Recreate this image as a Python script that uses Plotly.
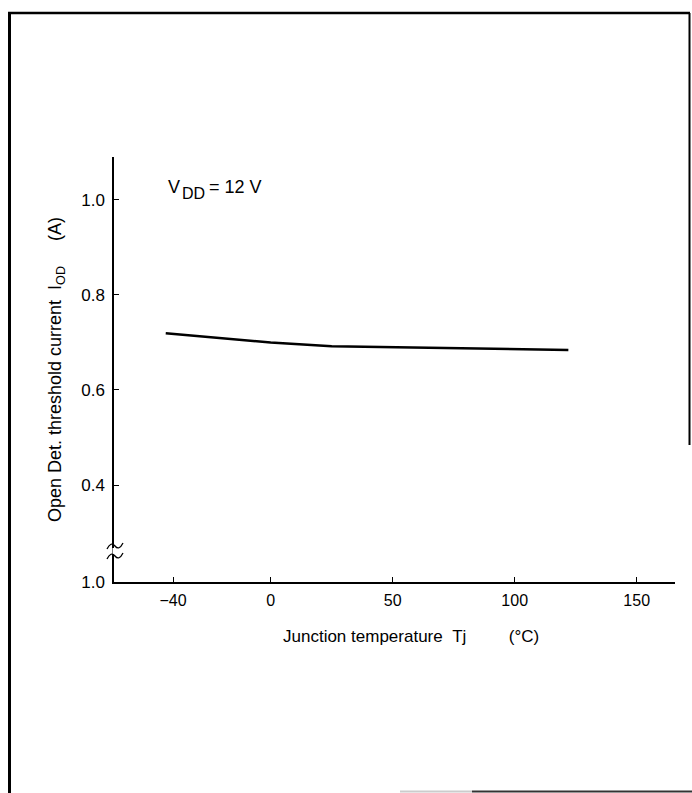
import plotly.graph_objects as go

# Data
tj = [-43, -20, 0, 25, 50, 75, 100, 122]
iod = [0.719, 0.708, 0.700, 0.692, 0.690, 0.688, 0.686, 0.684]

x_ticks = [-40, 0, 50, 100, 150]
x_ticktext = ["\u221240", "0", "50", "100", "150"]
y_bottom = 0.196
y_ticks = [y_bottom, 0.4, 0.6, 0.8, 1.0]
y_ticktext = ["1.0", "0.4", "0.6", "0.8", "1.0"]

W, H = 692, 793
PLOT_X0, PLOT_X1, PLOT_Y0, PLOT_Y1 = 114, 675, 157, 582  # page pixel coords
L, R, T, B = PLOT_X0, W - PLOT_X1, PLOT_Y0, H - PLOT_Y1
PW, PH = W - L - R, H - T - B

def px(xp):
    return (xp - L) / PW

def py(yp):
    return (PLOT_Y1 - yp) / PH

FONT = "Liberation Sans, Arial, Helvetica, sans-serif"

fig = go.Figure()
fig.add_trace(go.Scatter(x=tj, y=iod, mode="lines",
                         line=dict(color="black", width=2.5), showlegend=False,
                         hoverinfo="skip"))

fig.update_xaxes(range=[-64.2, 165.7], showline=True, linecolor="black", linewidth=1.5,
                 ticks="inside", ticklen=5, tickwidth=1.2, tickcolor="black",
                 tickvals=x_ticks, ticktext=x_ticktext, showgrid=False, zeroline=False,
                 ticklabelstandoff=3,
                 tickfont=dict(family=FONT, size=16, color="black"))
fig.update_yaxes(range=[y_bottom, 1.09], showline=True, linecolor="black", linewidth=1.5,
                 ticks="inside", ticklen=5, tickwidth=1.2, tickcolor="black",
                 tickvals=y_ticks, ticktext=y_ticktext, showgrid=False, zeroline=False,
                 ticklabelstandoff=4,
                 tickfont=dict(family=FONT, size=17, color="black"))

shapes = [
    # frame lines
    dict(type="line", xref="paper", yref="paper", x0=px(8), x1=px(690), y0=py(13), y1=py(13),
         line=dict(color="black", width=2.5)),
    dict(type="line", xref="paper", yref="paper", x0=px(9.5), x1=px(9.5), y0=py(13), y1=py(795),
         line=dict(color="black", width=3)),
    dict(type="line", xref="paper", yref="paper", x0=px(689.5), x1=px(689.5), y0=py(13), y1=py(445),
         line=dict(color="black", width=2)),
    dict(type="line", xref="paper", yref="paper", x0=px(400), x1=px(472), y0=py(791.5), y1=py(791.5),
         line=dict(color="#cccccc", width=2)),
    dict(type="line", xref="paper", yref="paper", x0=px(472), x1=px(700), y0=py(791.5), y1=py(791.5),
         line=dict(color="#333333", width=2)),
    # gap in the y axis at the break
    dict(type="line", xref="paper", yref="paper", x0=px(114), x1=px(114), y0=py(548), y1=py(554),
         line=dict(color="white", width=3)),
]
# axis break marks
for yb in (546, 556):
    x0, x1 = px(107), px(123)
    xm = (x0 + x1) / 2
    shapes.append(dict(type="path", xref="paper", yref="paper",
                       path=f"M {x0},{py(yb+3)} Q {(x0+xm)/2},{py(yb-5)} {xm},{py(yb)} T {x1},{py(yb-3)}",
                       line=dict(color="black", width=1.3)))

annotations = [
    dict(xref="paper", yref="paper", x=px(166), y=py(187), xanchor="left", yanchor="middle",
         showarrow=False, text="V", font=dict(family=FONT, size=18, color="black")),
    dict(xref="paper", yref="paper", x=px(180), y=py(193), xanchor="left", yanchor="middle",
         showarrow=False, text="DD", font=dict(family=FONT, size=16, color="black")),
    dict(xref="paper", yref="paper", x=px(207), y=py(187), xanchor="left", yanchor="middle",
         showarrow=False, text="= 12 V", font=dict(family=FONT, size=18, color="black")),
    dict(xref="paper", yref="paper", x=px(281), y=py(636), xanchor="left", yanchor="middle",
         showarrow=False,
         text="Junction temperature\u00a0\u00a0Tj\u00a0\u00a0\u00a0\u00a0\u00a0\u00a0\u00a0\u00a0\u00a0(°C)",
         font=dict(family=FONT, size=17, color="black")),
    dict(xref="paper", yref="paper", x=px(56), y=py(370), xanchor="center", yanchor="middle",
         showarrow=False, textangle=-90,
         text="Open Det. threshold current\u00a0\u00a0I<sub>OD</sub>\u00a0\u00a0\u00a0\u00a0\u00a0(A)",
         font=dict(family=FONT, size=18, color="black")),
]

fig.update_layout(width=W, height=H, margin=dict(l=L, r=R, t=T, b=B, pad=0),
                  paper_bgcolor="white", plot_bgcolor="white",
                  shapes=shapes, annotations=annotations)

fig.write_html("out.html", config={"displayModeBar": False},
               post_script="document.body.style.margin='0';document.body.style.overflow='hidden';")
